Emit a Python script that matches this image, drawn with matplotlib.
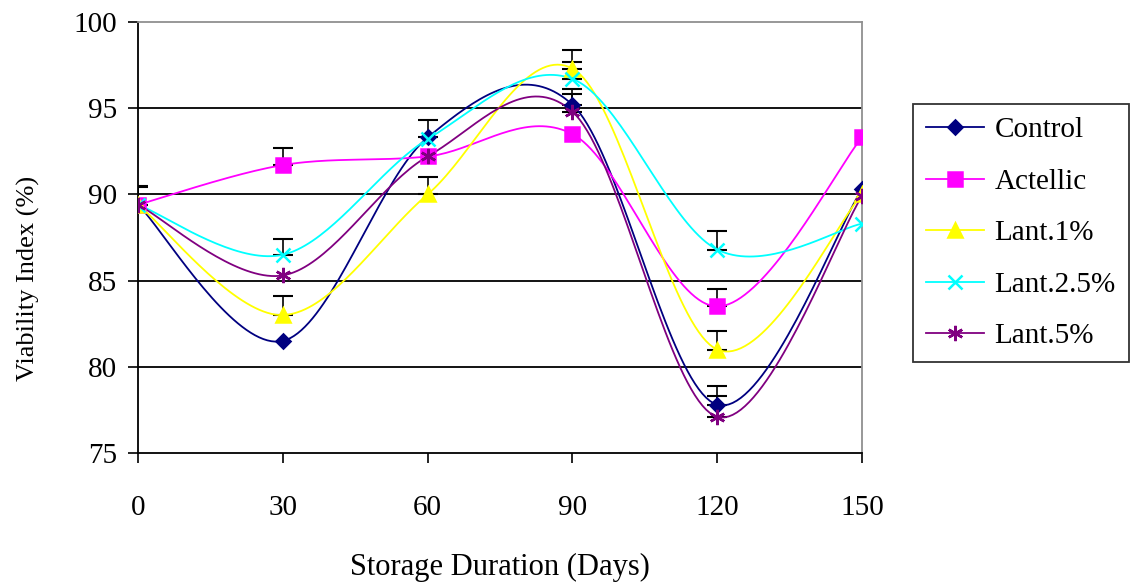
import numpy as np
import matplotlib.pyplot as plt

plt.rcParams['font.family'] = ['Liberation Serif', 'DejaVu Serif']

days = [0, 30, 60, 90, 120, 150]
series_names = ['Control', 'Actellic', 'Lant.1%', 'Lant.2.5%', 'Lant.5%']
control = [89.4, 81.5, 93.3, 95.2, 77.8, 90.3]
actellic = [89.4, 91.7, 92.2, 93.5, 83.5, 93.3]
lant1 = [89.4, 83.0, 90.0, 97.3, 81.0, 90.0]
lant25 = [89.4, 86.5, 93.2, 96.7, 86.8, 88.3]
lant5 = [89.4, 85.3, 92.2, 94.8, 77.1, 89.9]
# upper error bars only (0 = not shown)
err_control = [1.1, 0, 1.0, 0.9, 1.1, 0]
err_actellic = [0, 1.0, 0, 0, 1.0, 0]
err_lant1 = [1.0, 1.1, 1.0, 1.1, 1.1, 0]
err_lant25 = [0, 0.9, 0, 1.0, 1.1, 0]
err_lant5 = [0, 0, 0, 1.0, 1.2, 0]

values = [control, actellic, lant1, lant25, lant5]
errors = [err_control, err_actellic, err_lant1, err_lant25, err_lant5]
colors = ['#000080', '#FF00FF', '#FFFF00', '#00FFFF', '#800080']
markers = ['D', 's', '^', 'x', (6, 2, 0)]
msizes = [7, 10, 10, 10, 11]


def smooth(x, y, n=40):
    # catmull-rom style smoothing like excel's smoothed line
    x = np.asarray(x, float)
    y = np.asarray(y, float)
    px = np.concatenate([[x[0]], x, [x[-1]]])
    py = np.concatenate([[y[0]], y, [y[-1]]])
    xs, ys = [], []
    for i in range(1, len(px) - 2):
        p0, p1, p2, p3 = py[i - 1], py[i], py[i + 1], py[i + 2]
        q0, q1, q2, q3 = px[i - 1], px[i], px[i + 1], px[i + 2]
        t = np.linspace(0, 1, n)
        b1y = p1 + (p2 - p0) / 6
        b2y = p2 - (p3 - p1) / 6
        b1x = q1 + (q2 - q0) / 6
        b2x = q2 - (q3 - q1) / 6
        xs.append((1 - t) ** 3 * q1 + 3 * (1 - t) ** 2 * t * b1x + 3 * (1 - t) * t ** 2 * b2x + t ** 3 * q2)
        ys.append((1 - t) ** 3 * p1 + 3 * (1 - t) ** 2 * t * b1y + 3 * (1 - t) * t ** 2 * b2y + t ** 3 * p2)
    return np.concatenate(xs), np.concatenate(ys)


fig = plt.figure(figsize=(11.36, 5.86), dpi=100)
ax = fig.add_axes([0.1215, 0.227, 0.6373, 0.7355])

for i in range(len(values)):
    e = np.array(errors[i])
    m = e > 0
    ax.errorbar(np.array(days)[m], np.array(values[i])[m],
                yerr=[np.zeros(m.sum()), e[m]], fmt='none',
                ecolor='black', elinewidth=1.2, capsize=7, capthick=1.5, zorder=2)

for i in range(len(values)):
    sx, sy = smooth(days, values[i])
    ax.plot(sx, sy, color=colors[i], lw=1.3, zorder=3)
    ax.plot(days, values[i], linestyle='none', marker=markers[i], ms=msizes[i],
            color=colors[i], mec=colors[i], mew=1.8, zorder=4)
    ax.plot([], [], color=colors[i], lw=1.3, marker=markers[i], ms=msizes[i],
            mec=colors[i], mew=1.8, label=series_names[i])

ax.set_xlim(0, 150)
ax.set_ylim(75, 100)
ax.set_xticks(days)
ax.set_yticks([75, 80, 85, 90, 95, 100])
for yv in [80, 85, 90, 95]:
    ax.axhline(yv, color='black', lw=1.3, zorder=1)
ax.tick_params(direction='out', length=7, width=1.2, labelsize=21, colors='black')
ax.tick_params(axis='x', pad=23)
ax.tick_params(axis='y', pad=8)
for s in ['top', 'right']:
    ax.spines[s].set_color('#909090')
    ax.spines[s].set_linewidth(1.3)
for s in ['left', 'bottom']:
    ax.spines[s].set_color('black')
    ax.spines[s].set_linewidth(1.3)

ax.set_xlabel('Storage Duration (Days)', fontsize=22, labelpad=23)
ax.set_ylabel('Viability Index (%)', fontsize=19)
ax.yaxis.set_label_coords(-0.135, 0.405)

leg = ax.legend(loc='center left', bbox_to_anchor=(1.07, 0.51), fontsize=21,
                frameon=True, fancybox=False, edgecolor='black', handlelength=2.0,
                handletextpad=0.35, labelspacing=0.86, borderpad=0.45,
                borderaxespad=0)
leg.get_frame().set_linewidth(1.3)

fig.savefig('out.png', dpi=100)
